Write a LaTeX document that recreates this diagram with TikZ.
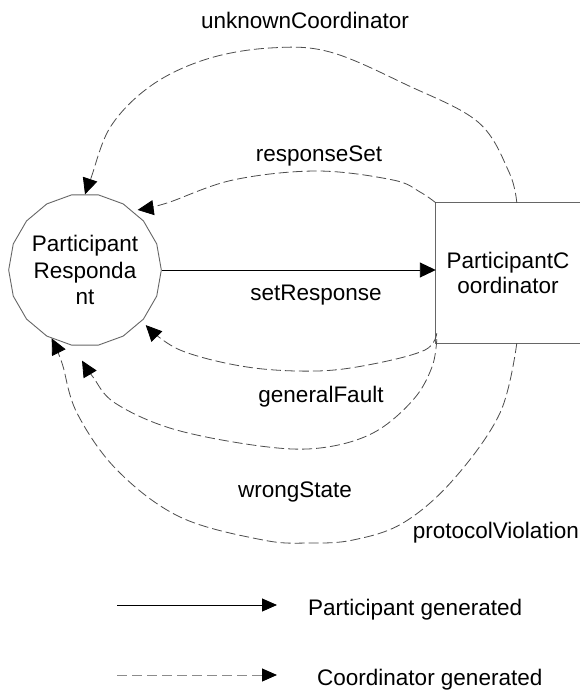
\documentclass[tikz,border=0pt]{standalone}
\usepackage{fontspec}
\setmainfont{Liberation Sans}
\usetikzlibrary{arrows.meta,shapes.geometric,calc}
\begin{document}
\begin{tikzpicture}[x=1pt,y=-1pt,
  txt/.style={font=\fontsize{22.5}{26}\selectfont, inner sep=0pt},
  roundstate/.style={draw=black!60, line width=0.9pt, shape=regular polygon,
    regular polygon sides=18, minimum size=143pt, inner sep=0pt, align=center,
    font=\fontsize{22.5}{26.5}\selectfont},
  boxstate/.style={draw=none, minimum width=144pt, minimum height=140pt,
    inner sep=0pt, align=center, font=\fontsize{22.5}{25}\selectfont},
  tiphead/.style={-{Triangle[length=16pt,width=15pt,color=black,fill=black]}},
  partarrow/.style={draw=black, line width=0.9pt, tiphead},
  coordarrow/.style={draw=black!70, line width=0.8pt, dash pattern=on 10pt off 4pt, tiphead},
  legsolid/.style={draw=black, line width=0.9pt, -{Triangle[length=15pt,width=13pt,color=black,fill=black]}},
  legdash/.style={draw=black!45, line width=1pt, dash pattern=on 10pt off 5pt,
    -{Triangle[length=15pt,width=13pt,color=black,fill=black]}},
  arc/.style={smooth, tension=0.6}
]
\useasboundingbox[fill=white] (0,0) rectangle (580,698);

% states
\node[roundstate] (pr) at (85,270) {Participant\\Responda\\nt};
\node[boxstate] (pc) at (508,273) {ParticipantC\\oordinator};
\draw[black!60, line width=0.9pt] (pc.north east) -- (pc.north west) -- (pc.south west) -- (pc.south east);

% anchor points on the coordinator box and the state circle
\coordinate (ucS) at ($(pc.north west)+(81,0)$);
\coordinate (gfS) at ($(pc.south west)+(1,-10)$);
\coordinate (wsS) at ($(pc.south west)+(1,-4)$);
\coordinate (pvS) at ($(pc.south west)+(81,0)$);
\coordinate (rsE) at ($(pr.49)+(3,-3)$);
\coordinate (gfE) at ($(pr.-42)+(4,4)$);
\coordinate (wsE) at ($(pr.south)+(-3,15)$);

% participant generated
\draw[partarrow] (pr.east) -- (pr.east -| pc.west);
\node[txt, anchor=base] (lsr) at (316,300) {setResponse};

% coordinator generated
\draw[coordarrow] plot[arc] coordinates {(ucS) (509,172) (478,122) (407,85) (330,52) (270,48) (207,59) (152,85) (111,126) (91,178) (pr.north)};
\node[txt, anchor=base] (luc) at (305,29) {unknownCoordinator};

\draw[coordarrow] plot[arc] coordinates {(pc.north west) (420,192) (393,180) (317,171) (233,180) (167,203) (rsE)};
\node[txt, anchor=base] (lrs) at (319,161) {responseSet};

\draw[coordarrow] plot[arc] coordinates {(gfS) (425,350) (373,364) (317,371) (247,367) (180,350) (gfE)};
\node[txt, anchor=base] (lgf) at (321,402) {generalFault};

\draw[coordarrow] plot[arc] coordinates {(wsS) (432,367) (413,400) (373,433) (320,448) (260,446) (173,429) (115,403) (93,377) (wsE)};
\node[txt, anchor=base] (lws) at (295,497) {wrongState};

\draw[coordarrow] plot[arc] coordinates {(pvS) (500,413) (453,480) (403,523) (353,540) (310,543) (263,540) (180,517) (117,470) (77,413) (62,363) (pr.-116)};
\node[txt, anchor=base east] (lpv) at (579,538) {protocolViolation};

% legend
\coordinate (l1s) at (117,605);
\coordinate (l1e) at (277,605);
\draw[legsolid] (l1s) -- (l1e);
\node[txt, anchor=base west] (lg1) at (308,615) {Participant generated};

\coordinate (l2s) at (117,675);
\coordinate (l2e) at (277,675);
\draw[legdash] (l2s) -- (l2e);
\node[txt, anchor=base west] (lg2) at (317,685) {Coordinator generated};
\end{tikzpicture}
\end{document}
